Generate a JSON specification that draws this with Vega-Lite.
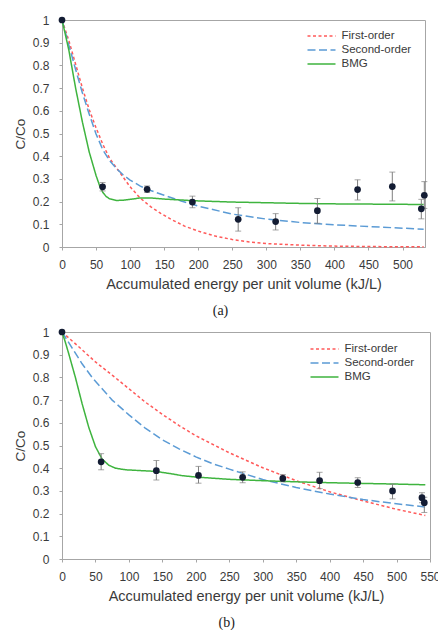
{
  "$schema": "https://vega.github.io/schema/vega-lite/v6.json",
  "padding": {"left": 12, "top": 13, "right": 5, "bottom": 5},
  "spacing": 7,
  "config": {
    "view": {"stroke": "#a6a6a6", "strokeWidth": 1},
    "axis": {
      "grid": false,
      "domainColor": "#a6a6a6",
      "tickColor": "#a6a6a6",
      "tickSize": 3,
      "labelFont": "Liberation Sans",
      "labelFontSize": 12,
      "labelColor": "#3a3a3a",
      "labelOverlap": false,
      "labelFlush": false,
      "titleFont": "Liberation Sans",
      "titleColor": "#3a3a3a",
      "titleFontWeight": "normal"
    },
    "axisX": {"labelPadding": 9, "titleFontSize": 14.5, "titlePadding": 7},
    "axisY": {"labelPadding": 10, "titleFontSize": 13.5, "titlePadding": 5},
    "title": {"font": "Liberation Serif", "fontSize": 14, "fontWeight": "normal", "color": "#222222", "orient": "bottom", "anchor": "middle", "frame": "bounds", "offset": 13}
  },
  "datasets": {
    "curvesA": [
      {"model": "First-order", "x": 0, "y": 1},
      {"model": "First-order", "x": 10, "y": 0.91},
      {"model": "First-order", "x": 20, "y": 0.805},
      {"model": "First-order", "x": 30, "y": 0.70},
      {"model": "First-order", "x": 40, "y": 0.605},
      {"model": "First-order", "x": 50, "y": 0.525},
      {"model": "First-order", "x": 60, "y": 0.452},
      {"model": "First-order", "x": 70, "y": 0.39},
      {"model": "First-order", "x": 85, "y": 0.328},
      {"model": "First-order", "x": 100, "y": 0.265},
      {"model": "First-order", "x": 115, "y": 0.215},
      {"model": "First-order", "x": 130, "y": 0.178},
      {"model": "First-order", "x": 145, "y": 0.148},
      {"model": "First-order", "x": 160, "y": 0.122},
      {"model": "First-order", "x": 180, "y": 0.092},
      {"model": "First-order", "x": 200, "y": 0.07},
      {"model": "First-order", "x": 225, "y": 0.048},
      {"model": "First-order", "x": 250, "y": 0.033},
      {"model": "First-order", "x": 275, "y": 0.022},
      {"model": "First-order", "x": 300, "y": 0.015},
      {"model": "First-order", "x": 350, "y": 0.008},
      {"model": "First-order", "x": 400, "y": 0.004},
      {"model": "First-order", "x": 450, "y": 0.002},
      {"model": "First-order", "x": 500, "y": 0.001},
      {"model": "First-order", "x": 531, "y": 0.001},
      {"model": "Second-order", "x": 0, "y": 1},
      {"model": "Second-order", "x": 10, "y": 0.89},
      {"model": "Second-order", "x": 20, "y": 0.782},
      {"model": "Second-order", "x": 30, "y": 0.678},
      {"model": "Second-order", "x": 40, "y": 0.585},
      {"model": "Second-order", "x": 50, "y": 0.498},
      {"model": "Second-order", "x": 60, "y": 0.428},
      {"model": "Second-order", "x": 70, "y": 0.38},
      {"model": "Second-order", "x": 80, "y": 0.345},
      {"model": "Second-order", "x": 90, "y": 0.317},
      {"model": "Second-order", "x": 100, "y": 0.295},
      {"model": "Second-order", "x": 115, "y": 0.268},
      {"model": "Second-order", "x": 130, "y": 0.249},
      {"model": "Second-order", "x": 150, "y": 0.228},
      {"model": "Second-order", "x": 175, "y": 0.203},
      {"model": "Second-order", "x": 200, "y": 0.18},
      {"model": "Second-order", "x": 250, "y": 0.145},
      {"model": "Second-order", "x": 300, "y": 0.123},
      {"model": "Second-order", "x": 350, "y": 0.108},
      {"model": "Second-order", "x": 400, "y": 0.098},
      {"model": "Second-order", "x": 450, "y": 0.09},
      {"model": "Second-order", "x": 500, "y": 0.083},
      {"model": "Second-order", "x": 531, "y": 0.078},
      {"model": "BMG", "x": 0, "y": 1},
      {"model": "BMG", "x": 5, "y": 0.935},
      {"model": "BMG", "x": 10, "y": 0.868},
      {"model": "BMG", "x": 20, "y": 0.70},
      {"model": "BMG", "x": 30, "y": 0.55},
      {"model": "BMG", "x": 40, "y": 0.418},
      {"model": "BMG", "x": 50, "y": 0.315},
      {"model": "BMG", "x": 55, "y": 0.272},
      {"model": "BMG", "x": 60, "y": 0.24},
      {"model": "BMG", "x": 65, "y": 0.222},
      {"model": "BMG", "x": 70, "y": 0.212},
      {"model": "BMG", "x": 80, "y": 0.205},
      {"model": "BMG", "x": 90, "y": 0.206},
      {"model": "BMG", "x": 100, "y": 0.21},
      {"model": "BMG", "x": 115, "y": 0.216},
      {"model": "BMG", "x": 130, "y": 0.216},
      {"model": "BMG", "x": 150, "y": 0.211},
      {"model": "BMG", "x": 175, "y": 0.207},
      {"model": "BMG", "x": 200, "y": 0.203},
      {"model": "BMG", "x": 250, "y": 0.198},
      {"model": "BMG", "x": 300, "y": 0.195},
      {"model": "BMG", "x": 350, "y": 0.192},
      {"model": "BMG", "x": 400, "y": 0.19},
      {"model": "BMG", "x": 450, "y": 0.189},
      {"model": "BMG", "x": 500, "y": 0.188},
      {"model": "BMG", "x": 531, "y": 0.187}
    ],
    "pointsA": [
      {"x": 0, "y": 1, "lo": 1, "hi": 1},
      {"x": 59.6, "y": 0.265, "lo": 0.247, "hi": 0.284},
      {"x": 125, "y": 0.254, "lo": 0.24, "hi": 0.269},
      {"x": 191.5, "y": 0.198, "lo": 0.173, "hi": 0.224},
      {"x": 258.7, "y": 0.122, "lo": 0.07, "hi": 0.173},
      {"x": 313.7, "y": 0.112, "lo": 0.075, "hi": 0.147},
      {"x": 375, "y": 0.16, "lo": 0.105, "hi": 0.214},
      {"x": 434, "y": 0.253, "lo": 0.207, "hi": 0.296},
      {"x": 485, "y": 0.266, "lo": 0.203, "hi": 0.33},
      {"x": 527.6, "y": 0.168, "lo": 0.124, "hi": 0.21},
      {"x": 532, "y": 0.228, "lo": 0.17, "hi": 0.288}
    ],
    "curvesB": [
      {"model": "First-order", "x": 0, "y": 1},
      {"model": "First-order", "x": 25, "y": 0.935},
      {"model": "First-order", "x": 50, "y": 0.868},
      {"model": "First-order", "x": 75, "y": 0.81},
      {"model": "First-order", "x": 100, "y": 0.75},
      {"model": "First-order", "x": 125, "y": 0.69},
      {"model": "First-order", "x": 150, "y": 0.637},
      {"model": "First-order", "x": 175, "y": 0.588},
      {"model": "First-order", "x": 200, "y": 0.543},
      {"model": "First-order", "x": 250, "y": 0.468},
      {"model": "First-order", "x": 300, "y": 0.402},
      {"model": "First-order", "x": 350, "y": 0.345},
      {"model": "First-order", "x": 400, "y": 0.296},
      {"model": "First-order", "x": 450, "y": 0.256},
      {"model": "First-order", "x": 500, "y": 0.219},
      {"model": "First-order", "x": 543, "y": 0.192},
      {"model": "Second-order", "x": 0, "y": 1},
      {"model": "Second-order", "x": 15, "y": 0.93},
      {"model": "Second-order", "x": 30, "y": 0.86},
      {"model": "Second-order", "x": 45, "y": 0.8},
      {"model": "Second-order", "x": 60, "y": 0.75},
      {"model": "Second-order", "x": 75, "y": 0.7},
      {"model": "Second-order", "x": 100, "y": 0.635},
      {"model": "Second-order", "x": 125, "y": 0.575},
      {"model": "Second-order", "x": 150, "y": 0.525},
      {"model": "Second-order", "x": 175, "y": 0.485},
      {"model": "Second-order", "x": 200, "y": 0.45},
      {"model": "Second-order", "x": 225, "y": 0.42},
      {"model": "Second-order", "x": 250, "y": 0.396},
      {"model": "Second-order", "x": 275, "y": 0.373},
      {"model": "Second-order", "x": 300, "y": 0.35},
      {"model": "Second-order", "x": 350, "y": 0.315},
      {"model": "Second-order", "x": 400, "y": 0.286},
      {"model": "Second-order", "x": 450, "y": 0.262},
      {"model": "Second-order", "x": 500, "y": 0.243},
      {"model": "Second-order", "x": 543, "y": 0.229},
      {"model": "BMG", "x": 0, "y": 1},
      {"model": "BMG", "x": 5, "y": 0.955},
      {"model": "BMG", "x": 10, "y": 0.905},
      {"model": "BMG", "x": 20, "y": 0.80},
      {"model": "BMG", "x": 30, "y": 0.685},
      {"model": "BMG", "x": 40, "y": 0.58},
      {"model": "BMG", "x": 50, "y": 0.495},
      {"model": "BMG", "x": 60, "y": 0.44},
      {"model": "BMG", "x": 70, "y": 0.413},
      {"model": "BMG", "x": 80, "y": 0.4},
      {"model": "BMG", "x": 95, "y": 0.393},
      {"model": "BMG", "x": 120, "y": 0.389},
      {"model": "BMG", "x": 140, "y": 0.386},
      {"model": "BMG", "x": 160, "y": 0.377},
      {"model": "BMG", "x": 180, "y": 0.367},
      {"model": "BMG", "x": 200, "y": 0.361},
      {"model": "BMG", "x": 250, "y": 0.351},
      {"model": "BMG", "x": 300, "y": 0.345},
      {"model": "BMG", "x": 350, "y": 0.34},
      {"model": "BMG", "x": 400, "y": 0.336},
      {"model": "BMG", "x": 450, "y": 0.333},
      {"model": "BMG", "x": 500, "y": 0.33},
      {"model": "BMG", "x": 543, "y": 0.327}
    ],
    "pointsB": [
      {"x": 0, "y": 1, "lo": 1, "hi": 1},
      {"x": 58.5, "y": 0.428, "lo": 0.393, "hi": 0.464},
      {"x": 141, "y": 0.389, "lo": 0.348, "hi": 0.434},
      {"x": 204, "y": 0.368, "lo": 0.334, "hi": 0.408},
      {"x": 270, "y": 0.36, "lo": 0.336, "hi": 0.384},
      {"x": 330, "y": 0.355, "lo": 0.34, "hi": 0.372},
      {"x": 385, "y": 0.345, "lo": 0.31, "hi": 0.382},
      {"x": 442, "y": 0.337, "lo": 0.315, "hi": 0.358},
      {"x": 494, "y": 0.3, "lo": 0.265, "hi": 0.33},
      {"x": 538, "y": 0.27, "lo": 0.248, "hi": 0.292},
      {"x": 541.5, "y": 0.248, "lo": 0.205, "hi": 0.272}
    ]
  },
  "vconcat": [
    {
      "width": 363,
      "height": 227,
      "title": {"text": "(a)"},
      "layer": [
        {
          "data": {"name": "curvesA"},
          "mark": {"type": "line", "strokeWidth": 1.5},
          "encoding": {
            "x": {"field": "x", "type": "quantitative", "title": "Accumulated energy per unit volume (kJ/L)", "scale": {"domain": [0, 533], "nice": false, "zero": false}, "axis": {"values": [0, 50, 100, 150, 200, 250, 300, 350, 400, 450, 500]}},
            "y": {"field": "y", "type": "quantitative", "title": "C/Co", "scale": {"domain": [0, 1], "nice": false}, "axis": {"values": [0, 0.1, 0.2, 0.3, 0.4, 0.5, 0.6, 0.7, 0.8, 0.9, 1], "format": ".1~f"}},
            "color": {"field": "model", "type": "nominal", "title": null, "scale": {"domain": ["First-order", "Second-order", "BMG"], "range": ["#ff5a5a", "#5b9bd5", "#3fb43f"]}, "legend": {"orient": "none", "legendX": 251.5, "legendY": 8, "title": null, "symbolType": "M-2,0H2", "symbolSize": 196, "symbolStrokeWidth": 1.5, "labelOffset": 12, "labelFont": "Liberation Sans", "labelFontSize": 11.5, "labelColor": "#3a3a3a", "padding": 0, "rowPadding": 0}},
            "strokeDash": {"field": "model", "type": "nominal", "title": null, "scale": {"domain": ["First-order", "Second-order", "BMG"], "range": [[3, 2.5], [8, 3.5], [1, 0]]}, "legend": {"orient": "none", "legendX": 251.5, "legendY": 8, "title": null, "symbolType": "M-2,0H2", "symbolSize": 196, "symbolStrokeWidth": 1.5, "labelOffset": 12, "labelFont": "Liberation Sans", "labelFontSize": 11.5, "labelColor": "#3a3a3a", "padding": 0, "rowPadding": 0}}
          }
        },
        {
          "data": {"name": "pointsA"},
          "mark": {"type": "errorbar", "color": "#7f7f7f", "thickness": 1, "ticks": {"size": 6}},
          "encoding": {
            "x": {"field": "x", "type": "quantitative", "title": "Accumulated energy per unit volume (kJ/L)", "scale": {"domain": [0, 533], "nice": false, "zero": false}, "axis": {"values": [0, 50, 100, 150, 200, 250, 300, 350, 400, 450, 500]}},
            "y": {"field": "lo", "type": "quantitative", "title": "C/Co", "scale": {"domain": [0, 1], "nice": false}, "axis": {"values": [0, 0.1, 0.2, 0.3, 0.4, 0.5, 0.6, 0.7, 0.8, 0.9, 1], "format": ".1~f"}},
            "y2": {"field": "hi"}
          }
        },
        {
          "data": {"name": "pointsA"},
          "mark": {"type": "point", "filled": true, "opacity": 1, "size": 45, "color": "#131c33"},
          "encoding": {
            "x": {"field": "x", "type": "quantitative", "title": "Accumulated energy per unit volume (kJ/L)", "scale": {"domain": [0, 533], "nice": false, "zero": false}, "axis": {"values": [0, 50, 100, 150, 200, 250, 300, 350, 400, 450, 500]}},
            "y": {"field": "y", "type": "quantitative", "title": "C/Co", "scale": {"domain": [0, 1], "nice": false}, "axis": {"values": [0, 0.1, 0.2, 0.3, 0.4, 0.5, 0.6, 0.7, 0.8, 0.9, 1], "format": ".1~f"}}
          }
        }
      ]
    },
    {
      "width": 368,
      "height": 227,
      "title": {"text": "(b)"},
      "layer": [
        {
          "data": {"name": "curvesB"},
          "mark": {"type": "line", "strokeWidth": 1.5},
          "encoding": {
            "x": {"field": "x", "type": "quantitative", "title": "Accumulated energy per unit volume (kJ/L)", "scale": {"domain": [0, 550], "nice": false, "zero": false}, "axis": {"values": [0, 50, 100, 150, 200, 250, 300, 350, 400, 450, 500, 550]}},
            "y": {"field": "y", "type": "quantitative", "title": "C/Co", "scale": {"domain": [0, 1], "nice": false}, "axis": {"values": [0, 0.1, 0.2, 0.3, 0.4, 0.5, 0.6, 0.7, 0.8, 0.9, 1], "format": ".1~f"}},
            "color": {"field": "model", "type": "nominal", "title": null, "scale": {"domain": ["First-order", "Second-order", "BMG"], "range": ["#ff5a5a", "#5b9bd5", "#3fb43f"]}, "legend": {"orient": "none", "legendX": 254.5, "legendY": 9, "title": null, "symbolType": "M-2,0H2", "symbolSize": 196, "symbolStrokeWidth": 1.5, "labelOffset": 12, "labelFont": "Liberation Sans", "labelFontSize": 11.5, "labelColor": "#3a3a3a", "padding": 0, "rowPadding": 0}},
            "strokeDash": {"field": "model", "type": "nominal", "title": null, "scale": {"domain": ["First-order", "Second-order", "BMG"], "range": [[3, 2.5], [8, 3.5], [1, 0]]}, "legend": {"orient": "none", "legendX": 254.5, "legendY": 9, "title": null, "symbolType": "M-2,0H2", "symbolSize": 196, "symbolStrokeWidth": 1.5, "labelOffset": 12, "labelFont": "Liberation Sans", "labelFontSize": 11.5, "labelColor": "#3a3a3a", "padding": 0, "rowPadding": 0}}
          }
        },
        {
          "data": {"name": "pointsB"},
          "mark": {"type": "errorbar", "color": "#7f7f7f", "thickness": 1, "ticks": {"size": 6}},
          "encoding": {
            "x": {"field": "x", "type": "quantitative", "title": "Accumulated energy per unit volume (kJ/L)", "scale": {"domain": [0, 550], "nice": false, "zero": false}, "axis": {"values": [0, 50, 100, 150, 200, 250, 300, 350, 400, 450, 500, 550]}},
            "y": {"field": "lo", "type": "quantitative", "title": "C/Co", "scale": {"domain": [0, 1], "nice": false}, "axis": {"values": [0, 0.1, 0.2, 0.3, 0.4, 0.5, 0.6, 0.7, 0.8, 0.9, 1], "format": ".1~f"}},
            "y2": {"field": "hi"}
          }
        },
        {
          "data": {"name": "pointsB"},
          "mark": {"type": "point", "filled": true, "opacity": 1, "size": 45, "color": "#131c33"},
          "encoding": {
            "x": {"field": "x", "type": "quantitative", "title": "Accumulated energy per unit volume (kJ/L)", "scale": {"domain": [0, 550], "nice": false, "zero": false}, "axis": {"values": [0, 50, 100, 150, 200, 250, 300, 350, 400, 450, 500, 550]}},
            "y": {"field": "y", "type": "quantitative", "title": "C/Co", "scale": {"domain": [0, 1], "nice": false}, "axis": {"values": [0, 0.1, 0.2, 0.3, 0.4, 0.5, 0.6, 0.7, 0.8, 0.9, 1], "format": ".1~f"}}
          }
        }
      ]
    }
  ],
  "resolve": {"scale": {"color": "independent", "strokeDash": "independent"}}
}
